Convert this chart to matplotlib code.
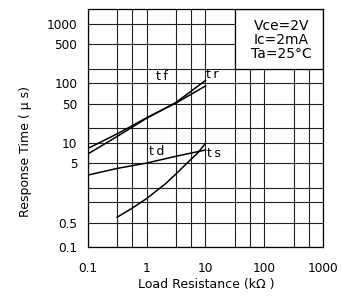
"""Switching time vs load resistance (datasheet style, non-uniform log grid)."""
import numpy as np
import matplotlib
matplotlib.use("Agg")
import matplotlib.pyplot as plt
from matplotlib.patches import Rectangle
from matplotlib.ticker import FixedLocator, FixedFormatter, NullFormatter

# ---- data (kOhm, microseconds) ----
tr_x = [0.1, 0.3, 1, 3, 10]
tr_y = [6.8, 13.5, 29, 52, 114]
tf_x = [0.1, 0.3, 1, 3, 10]
tf_y = [8.2, 15.3, 29.5, 51, 91]
td_x = [0.1, 0.3, 1, 3, 10]
td_y = [3.2, 4.1, 5.0, 6.3, 7.8]
ts_x = [0.3, 0.5, 1, 2, 3, 5, 7, 10]
ts_y = [0.60, 0.81, 1.19, 2.3, 3.35, 5.64, 7.1, 9.8]

x_ticks = [0.1, 1, 10, 100, 1000]
x_labels = ["0.1", "1", "10", "100", "1000"]
x_grid = [0.3, 0.5, 3, 5, 30, 50, 300, 500]
y_ticks = [0.2, 0.5, 5, 10, 50, 100, 500, 1000]
y_labels = ["0.1", "0.5", "5", "10", "50", "100", "500", "1000"]
y_grid = [1, 2, 20, 200]

conditions = ["Vce=2V", "Ic=2mA", "Ta=25°C"]

# the printed grid is not a true log grid: sub-decade lines sit at
# these fractions of a decade
X_FRAC_VAL = [0, np.log10(3), np.log10(5), 1]
X_FRAC_POS = [0, 0.5, 0.75, 1]
Y_FRAC_VAL = [0, np.log10(2), np.log10(5), 1]
Y_FRAC_POS = [0, 0.242, 0.658, 1]


def make_scale(val_frac, pos_frac):
    def fwd(v):
        v = np.asarray(v, dtype=float)
        lg = np.log10(np.clip(v, 1e-300, None))
        d = np.floor(lg)
        return d + np.interp(lg - d, val_frac, pos_frac)

    def inv(u):
        u = np.asarray(u, dtype=float)
        d = np.floor(u)
        return 10 ** (d + np.interp(u - d, pos_frac, val_frac))

    return fwd, inv


fig = plt.figure(figsize=(3.42, 3.02), dpi=100)
ax = fig.add_axes([0.2564, 0.1811, 0.6889, 0.7881])

ax.set_xscale("function", functions=make_scale(X_FRAC_VAL, X_FRAC_POS))
ax.set_yscale("function", functions=make_scale(Y_FRAC_VAL, Y_FRAC_POS))
ax.set_xlim(0.1, 1000)
ax.set_ylim(0.2, 2000)

ax.xaxis.set_major_locator(FixedLocator(x_ticks))
ax.xaxis.set_major_formatter(FixedFormatter(x_labels))
ax.xaxis.set_minor_locator(FixedLocator(x_grid))
ax.xaxis.set_minor_formatter(NullFormatter())
ax.yaxis.set_major_locator(FixedLocator(y_ticks))
ax.yaxis.set_major_formatter(FixedFormatter(y_labels))
ax.yaxis.set_minor_locator(FixedLocator(y_grid))
ax.yaxis.set_minor_formatter(NullFormatter())

ax.tick_params(which="both", length=0, labelsize=8.7, colors="black")
ax.tick_params(axis="x", pad=10.5)
ax.tick_params(axis="y", pad=7.5)

ax.set_axisbelow(True)
ax.grid(which="both", color="#222222", linewidth=0.8)
for sp in ax.spines.values():
    sp.set_linewidth(0.9)

for xs, ys in [(tr_x, tr_y), (tf_x, tf_y), (td_x, td_y), (ts_x, ts_y)]:
    ax.plot(xs, ys, color="black", linewidth=1.1, zorder=3)

# conditions box in the upper right corner
ax.add_patch(Rectangle((30, 200), 1000 - 30, 2000 - 200, facecolor="white",
                       edgecolor="black", linewidth=0.9, zorder=2.5))
for txt, yy in zip(conditions, [0.931, 0.871, 0.812]):
    ax.text(0.8226, yy, txt, transform=ax.transAxes, ha="center", va="center",
            fontsize=10, zorder=4)

# curve names
for txt, xx, yy in [("t\u2009f", 0.314, 0.717), ("t\u2009r", 0.528, 0.724),
                    ("t\u2009d", 0.293, 0.402), ("t\u2009s", 0.535, 0.395)]:
    ax.text(xx, yy, txt, transform=ax.transAxes, ha="center", va="center",
            fontsize=9, zorder=4)

ax.set_xlabel("Load Resistance (kΩ )", fontsize=9, va="center")
ax.xaxis.set_label_coords(0.502, -0.158)
ax.set_ylabel("Response Time ( μ s)", fontsize=9, va="center")
ax.yaxis.set_label_coords(-0.266, 0.402)

fig.savefig("out.png", dpi=100, facecolor="white")
